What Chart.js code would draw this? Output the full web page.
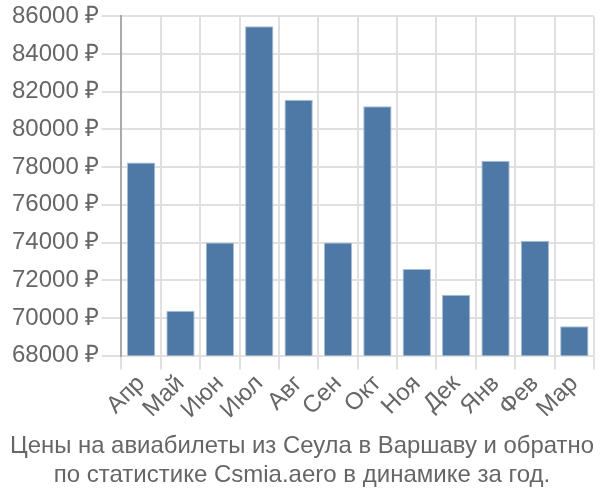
<!DOCTYPE html>
<html>
<head>
<meta charset="utf-8">
<script src="https://cdn.jsdelivr.net/npm/chart.js@4/dist/chart.umd.min.js"></script>
<style>
  html, body { margin: 0; padding: 0; background: #fff; }
  #wrap { width: 600px; height: 500px; }
</style>
</head>
<body>
<div id="wrap"><canvas id="chart"></canvas></div>
<script>
const months = ['Апр', 'Май', 'Июн', 'Июл', 'Авг', 'Сен', 'Окт', 'Ноя', 'Дек', 'Янв', 'Фев', 'Мар'];
const prices = [78250, 70380, 74000, 85480, 81580, 74000, 81230, 72600, 71230, 78340, 74100, 69560];
const titleLines = ['Цены на авиабилеты из Сеула в Варшаву и обратно', 'по статистике Csmia.aero в динамике за год.'];

Chart.defaults.font.family = '"Liberation Sans", Arial, sans-serif';
Chart.defaults.color = '#666';

new Chart(document.getElementById('chart').getContext('2d'), {
    type: 'bar',
    data: {
        labels: months,
        datasets: [{
            data: prices,
            backgroundColor: '#4e79a7',
            borderColor: '#a9bfd6',
            borderWidth: 1
        }]
    },
    options: {
        responsive: true,
        maintainAspectRatio: false,
        animation: false,
        layout: { padding: { left: 10, right: 6, top: 4, bottom: 0 } },
        plugins: {
            legend: { display: false },
            tooltip: { enabled: false },
            title: {
                display: true,
                position: 'bottom',
                text: titleLines,
                color: '#666',
                font: { size: 24, weight: 'normal' },
                lineHeight: 1.15,
                padding: { top: 8, bottom: 10 }
            }
        },
        scales: {
            x: {
                grid: { color: '#e0e0e0', lineWidth: 2, offset: true, tickLength: 14 },
                border: { color: '#e0e0e0', width: 2 },
                ticks: { font: { size: 24 }, maxRotation: 45, minRotation: 45, autoSkip: false, padding: 0 }
            },
            y: {
                min: 68000,
                max: 86000,
                grid: { color: '#e0e0e0', lineWidth: 2, tickLength: 20 },
                border: { color: '#aaa', width: 2 },
                ticks: {
                    stepSize: 2000,
                    font: { size: 24 },
                    padding: 2,
                    callback: v => v + ' ₽'
                }
            }
        }
    }
});
</script>
</body>
</html>
